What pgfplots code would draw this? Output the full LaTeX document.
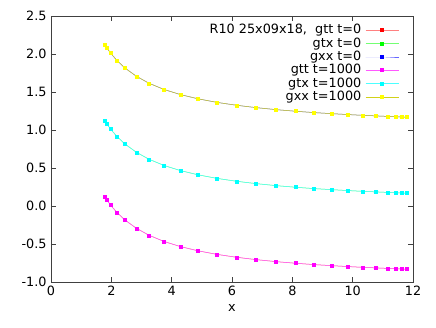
\documentclass[border=0pt]{standalone}
\usepackage{fontspec}
\setmainfont{DejaVu Sans}
\usepackage{pgfplots}
\pgfplotsset{compat=1.18}
\definecolor{cR}{HTML}{FF0000}
\definecolor{cG}{HTML}{00FF00}
\definecolor{cB}{HTML}{0000FF}
\definecolor{cM}{HTML}{FF00FF}
\definecolor{cC}{HTML}{00FFFF}
\definecolor{cY}{HTML}{FFFF00}

% data: x, then gtt, gtx, gxx
\begin{document}
\fontsize{12.8}{15}\selectfont
\begin{tikzpicture}
\begin{axis}[
  name=ax,
  scale only axis,
  width=362pt, height=266pt,
  xmin=0, xmax=12, ymin=-1, ymax=2.5,
  xtick={0,2,4,6,8,10,12},
  ytick={-1,-0.5,0,0.5,1,1.5,2,2.5},
  yticklabel style={/pgf/number format/.cd,fixed,fixed zerofill,precision=1},
  /pgf/number format/assume math mode=true,
  tick align=inside,
  major tick length=5pt,
  axis line style={black!75,line width=0.5pt},
  every tick/.style={black!75,line width=0.5pt},
  xlabel={x},
  xlabel style={yshift=0pt},
  legend plot pos=right,
  legend cell align=right,
  legend style={at={(1,1)},anchor=north east,xshift=-14pt,yshift=-6pt,
    draw=none,fill=none,row sep=-2pt,inner sep=0pt,
    nodes={inner xsep=4pt}},
  legend image code/.code={
    \draw[mark repeat=2,mark phase=2,#1] plot coordinates {(0pt,0pt)(16.5pt,0pt)(33pt,0pt)};},
  every axis plot/.append style={line width=0.5pt,mark=square*,mark size=1.5pt},
]
\addplot[cR!50,mark options={cR}] coordinates {
(1.79,0.117)(1.85,0.081)(1.98,0.010)(2.18,-0.083)(2.45,-0.184)(2.83,-0.293)
(3.25,-0.385)(3.75,-0.467)(4.29,-0.534)(4.87,-0.589)(5.49,-0.636)(6.16,-0.675)
(6.79,-0.705)(7.46,-0.732)(8.10,-0.753)(8.72,-0.771)(9.32,-0.785)(9.84,-0.797)
(10.34,-0.807)(10.76,-0.814)(11.15,-0.821)(11.43,-0.825)(11.63,-0.828)(11.80,-0.831)};
\addlegendentry{R10 25x09x18,\ \ gtt t=0}
\addplot[cG!55,mark options={cG}] coordinates {
(1.79,1.117)(1.85,1.081)(1.98,1.010)(2.18,0.917)(2.45,0.816)(2.83,0.707)
(3.25,0.615)(3.75,0.533)(4.29,0.466)(4.87,0.411)(5.49,0.364)(6.16,0.325)
(6.79,0.295)(7.46,0.268)(8.10,0.247)(8.72,0.229)(9.32,0.215)(9.84,0.203)
(10.34,0.193)(10.76,0.186)(11.15,0.179)(11.43,0.175)(11.63,0.172)(11.80,0.169)};
\addlegendentry{gtx t=0}
\addplot[cB!60,mark options={cB}] coordinates {
(1.79,2.117)(1.85,2.081)(1.98,2.010)(2.18,1.917)(2.45,1.816)(2.83,1.707)
(3.25,1.615)(3.75,1.533)(4.29,1.466)(4.87,1.411)(5.49,1.364)(6.16,1.325)
(6.79,1.295)(7.46,1.268)(8.10,1.247)(8.72,1.229)(9.32,1.215)(9.84,1.203)
(10.34,1.193)(10.76,1.186)(11.15,1.179)(11.43,1.175)(11.63,1.172)(11.80,1.169)};
\addlegendentry{gxx t=0}
\addplot[cM!65,mark options={cM}] coordinates {
(1.79,0.117)(1.85,0.081)(1.98,0.010)(2.18,-0.083)(2.45,-0.184)(2.83,-0.293)
(3.25,-0.385)(3.75,-0.467)(4.29,-0.534)(4.87,-0.589)(5.49,-0.636)(6.16,-0.675)
(6.79,-0.705)(7.46,-0.732)(8.10,-0.753)(8.72,-0.771)(9.32,-0.785)(9.84,-0.797)
(10.34,-0.807)(10.76,-0.814)(11.15,-0.821)(11.43,-0.825)(11.63,-0.828)(11.80,-0.831)};
\addlegendentry{gtt t=1000}
\addplot[cC!70,mark options={cC}] coordinates {
(1.79,1.117)(1.85,1.081)(1.98,1.010)(2.18,0.917)(2.45,0.816)(2.83,0.707)
(3.25,0.615)(3.75,0.533)(4.29,0.466)(4.87,0.411)(5.49,0.364)(6.16,0.325)
(6.79,0.295)(7.46,0.268)(8.10,0.247)(8.72,0.229)(9.32,0.215)(9.84,0.203)
(10.34,0.193)(10.76,0.186)(11.15,0.179)(11.43,0.175)(11.63,0.172)(11.80,0.169)};
\addlegendentry{gtx t=1000}
\addplot[cY!80!black!90,mark options={cY}] coordinates {
(1.79,2.117)(1.85,2.081)(1.98,2.010)(2.18,1.917)(2.45,1.816)(2.83,1.707)
(3.25,1.615)(3.75,1.533)(4.29,1.466)(4.87,1.411)(5.49,1.364)(6.16,1.325)
(6.79,1.295)(7.46,1.268)(8.10,1.247)(8.72,1.229)(9.32,1.215)(9.84,1.203)
(10.34,1.193)(10.76,1.186)(11.15,1.179)(11.43,1.175)(11.63,1.172)(11.80,1.169)};
\addlegendentry{gxx t=1000}
\end{axis}
\path ([xshift=-51pt,yshift=-45pt]ax.south west) rectangle ([xshift=23pt,yshift=16pt]ax.north east);
\end{tikzpicture}
\end{document}
